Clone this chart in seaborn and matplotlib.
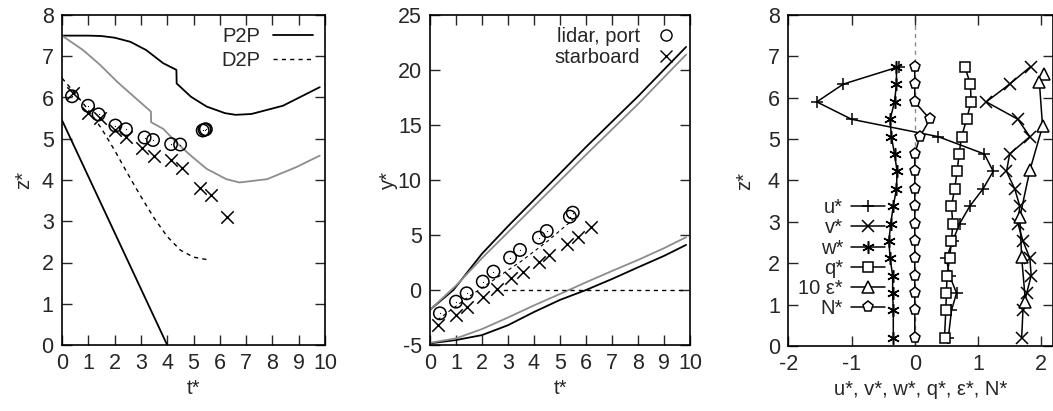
import matplotlib
matplotlib.use('Agg')
import matplotlib.pyplot as plt
import seaborn as sns
from matplotlib.lines import Line2D

# панель 1: z* от t*
p2p_hi_t = [0, 1, 1.5, 2, 2.6, 3.2, 3.85, 4.35, 4.36, 4.9, 5.5, 6.2, 6.6, 7.2, 8.4, 9.8]
p2p_hi_z = [7.5, 7.5, 7.49, 7.45, 7.35, 7.15, 6.83, 6.67, 6.34, 6.02, 5.78, 5.62, 5.58, 5.6, 5.8, 6.25]
gray_hi_t = [0, 0.8, 1.45, 2.1, 2.7, 3.38, 3.39, 3.85, 4.35, 4.9, 5.5, 6.25, 6.75, 7.8, 8.9, 9.8]
gray_hi_z = [7.5, 7.15, 6.79, 6.38, 6.04, 5.66, 5.4, 5.24, 4.91, 4.59, 4.27, 4.02, 3.94, 4.02, 4.31, 4.59]
p2p_lo_t = [0, 4]
p2p_lo_z = [5.45, 0]
d2p_t = [0, 0.5, 1, 1.5, 2, 2.5, 3, 3.5, 4, 4.5, 5, 5.6]
d2p_z = [6.47, 6.1, 5.7, 5.25, 4.72, 4.15, 3.6, 3.08, 2.63, 2.3, 2.13, 2.06]
port_t = [0.38, 0.99, 1.39, 2.03, 2.43, 3.14, 3.46, 4.15, 4.49, 5.35, 5.42, 5.47]
port_z = [6.03, 5.8, 5.59, 5.32, 5.23, 5.03, 4.97, 4.87, 4.86, 5.2, 5.22, 5.23]
stb_t = [0.42, 0.99, 1.43, 2.03, 2.44, 3.06, 3.51, 4.15, 4.56, 5.25, 5.66, 6.29]
stb_z = [6.1, 5.62, 5.5, 5.21, 5.05, 4.77, 4.59, 4.48, 4.28, 3.81, 3.64, 3.11]

# панель 2: y* от t*
y_hi_t = [0, 0.9, 2, 3, 4, 6, 8, 9.85]
y_hi = [-1.8, 0, 3.3, 5.8, 8.2, 13.0, 17.6, 22.1]
y_hi_g_t = [0, 1, 2, 4, 6, 8, 9.85]
y_hi_g = [-1.8, 0.4, 2.9, 7.6, 12.3, 16.9, 21.4]
y_lo_t = [0, 1, 2, 3, 4, 5, 6, 7, 8, 9, 9.85]
y_lo = [-4.85, -4.55, -4.1, -3.2, -2.0, -0.9, 0.0, 1.0, 2.06, 3.1, 4.1]
y_lo_g = [-4.8, -4.4, -3.55, -2.5, -1.4, -0.36, 0.7, 1.73, 2.73, 3.8, 4.8]
y_d2p_t = [0.3, 1.5, 2.5, 3.5, 4.5, 5.5]
y_d2p = [-2.7, -0.6, 1.0, 2.6, 4.4, 6.4]
y_zero_t = [2.5, 9.85]
y_zero = [0, 0]
yport_t = [0.38, 1.0, 1.41, 2.03, 2.44, 3.08, 3.46, 4.19, 4.49, 5.38, 5.49]
yport = [-2.12, -1.06, -0.3, 0.76, 1.67, 2.94, 3.64, 4.76, 5.36, 6.67, 7.03]
ystb_t = [0.32, 1.0, 1.44, 2.05, 2.56, 3.13, 3.56, 4.19, 4.56, 5.26, 5.71, 6.18]
ystb = [-3.18, -2.27, -1.52, -0.61, 0.06, 1.06, 1.67, 2.58, 3.18, 4.18, 4.79, 5.76]

# панель 3: профили
z_lev = [6.75, 6.33, 5.9, 5.48, 5.06, 4.64, 4.22, 3.8, 3.38, 2.96, 2.54, 2.12, 1.7, 1.28, 0.86, 0.2]
u_star = [-0.25, -1.13, -1.55, -1.0, 0.37, 1.1, 1.24, 1.08, 0.87, 0.71, 0.6, 0.5, 0.55, 0.66, 0.58, 0.53]
v_star = [1.83, 1.5, 1.13, 1.63, 1.82, 1.5, 1.45, 1.58, 1.66, 1.63, 1.71, 1.82, 1.84, 1.77, 1.71, 1.69]
w_star = [-0.29, -0.29, -0.32, -0.39, -0.37, -0.32, -0.28, -0.29, -0.34, -0.38, -0.41, -0.39, -0.35, -0.35, -0.34, -0.34]
q_star = [0.79, 0.88, 0.89, 0.82, 0.74, 0.7, 0.67, 0.63, 0.58, 0.6, 0.58, 0.55, 0.51, 0.5, 0.49, 0.47]
n_star = [0, 0, 0, 0.24, 0.08, 0, 0, 0, 0, 0, 0, 0, 0, 0, 0, 0]
eps_z = [6.58, 6.38, 5.31, 4.25, 3.11, 2.14, 1.07]
eps10 = [2.04, 1.97, 2.02, 1.82, 1.66, 1.69, 1.75]

GRAY = '#8c8c8c'

sns.set_style('ticks')
plt.rcParams['font.family'] = ['Liberation Sans', 'DejaVu Sans']
plt.rcParams['font.size'] = 14.5
plt.rcParams['axes.labelsize'] = 14.5
plt.rcParams['xtick.labelsize'] = 15.5
plt.rcParams['ytick.labelsize'] = 15.5
plt.rcParams['legend.fontsize'] = 14.5
plt.rcParams['axes.unicode_minus'] = False

fig = plt.figure(figsize=(10.53, 4.11), dpi=100)
ax1 = fig.add_axes([62 / 1053, 66 / 411, 263 / 1053, 330 / 411])
ax2 = fig.add_axes([430 / 1053, 66 / 411, 260 / 1053, 330 / 411])
ax3 = fig.add_axes([788.3 / 1053, 65 / 411, 265 / 1053, 331 / 411])


def line(ax, x, y, color='black', ls='-', lw=1.3, **kw):
    sns.lineplot(x=x, y=y, ax=ax, color=color, linestyle=ls, linewidth=lw,
                 sort=False, estimator=None, **kw)


def circles(ax, x, y):
    sns.scatterplot(x=x, y=y, ax=ax, marker='o', s=80, facecolor='none',
                    edgecolor='black', linewidth=1.1, zorder=4)
    sns.scatterplot(x=x, y=y, ax=ax, marker='.', s=3, color='black',
                    linewidth=0, zorder=4)


def crosses(ax, x, y):
    sns.scatterplot(x=x, y=y, ax=ax, marker='x', s=80, color='black',
                    linewidth=1.1, zorder=4)


# --- панель 1
line(ax1, p2p_hi_t, p2p_hi_z)
line(ax1, gray_hi_t, gray_hi_z, color=GRAY)
line(ax1, p2p_lo_t, p2p_lo_z)
line(ax1, d2p_t, d2p_z, ls=(0, (3, 3)), lw=1.0)
circles(ax1, port_t, port_z)
crosses(ax1, stb_t, stb_z)
ax1.set_xlim(0, 10)
ax1.set_ylim(0, 8)
ax1.set_xticks(range(0, 11))
ax1.set_yticks(range(0, 9))
ax1.set_xlabel('t*', labelpad=3)
ax1.set_ylabel('z*', labelpad=6)
ax1.legend(handles=[Line2D([], [], color='black', lw=1.3, label='P2P'),
                    Line2D([], [], color='black', lw=1.0, ls=(0, (3, 3)), label='D2P')],
           loc='upper right', markerfirst=False, frameon=False, handlelength=2.0,
           borderaxespad=0.2, labelspacing=0.25, handletextpad=0.6)

# --- панель 2
line(ax2, y_hi_t, y_hi)
line(ax2, y_hi_g_t, y_hi_g, color=GRAY)
line(ax2, y_lo_t, y_lo)
line(ax2, y_lo_t, y_lo_g, color=GRAY)
line(ax2, y_zero_t, y_zero, ls=(0, (3, 3)), lw=1.0)
line(ax2, y_d2p_t, y_d2p, ls=(0, (3, 3)), lw=0.8)
circles(ax2, yport_t, yport)
crosses(ax2, ystb_t, ystb)
ax2.set_xlim(0, 10)
ax2.set_ylim(-5, 25)
ax2.set_xticks(range(0, 11))
ax2.set_yticks(range(-5, 26, 5))
ax2.set_xlabel('t*', labelpad=3)
ax2.set_ylabel('y*', labelpad=0)
ax2.legend(handles=[Line2D([], [], ls='none', marker='o', mfc='none', mec='black', ms=8, label='lidar, port'),
                    Line2D([], [], ls='none', marker='x', color='black', ms=8, label='starboard')],
           loc='upper right', markerfirst=False, frameon=False, handlelength=1.2,
           borderaxespad=0.2, labelspacing=0.1, handletextpad=0.7)

# --- панель 3
ax3.axvline(0, color=GRAY, linestyle=(0, (3, 3)), linewidth=1.0, zorder=0)
prof = [('u*', u_star, z_lev, '+', 9), ('v*', v_star, z_lev, 'x', 8), ('w*', w_star, z_lev, (6, 2, 0), 9),
        ('q*', q_star, z_lev, 's', 7.5), ('10 ε*', eps10, eps_z, '^', 8), ('N*', n_star, z_lev, 'p', 8)]
handles = []
for lab, xs, zs, m, ms in prof:
    mk = dict(markersize=ms, markerfacecolor='white', markeredgecolor='black', markeredgewidth=1.1)
    sns.lineplot(x=xs, y=zs, ax=ax3, color='black', linewidth=1.1, sort=False,
                 estimator=None, marker=m, **mk)
    handles.append(Line2D([], [], color='black', lw=1.1, marker=m, label=lab, **mk))
ax3.set_xlim(-2, 2.19)
ax3.set_ylim(0, 8)
ax3.set_xticks([-2, -1, 0, 1, 2])
ax3.set_yticks(range(0, 9))
ax3.set_xlabel('u*, v*, w*, q*, ε*, N*', labelpad=3)
ax3.set_ylabel('z*', labelpad=10)
ax3.legend(handles=handles, loc='center left', bbox_to_anchor=(-0.03, 0.265),
           markerfirst=False, frameon=False, handlelength=1.7,
           labelspacing=0.06, handletextpad=0.4)

for ax in (ax1, ax2, ax3):
    ax.tick_params(direction='in', length=7, width=1.0, top=True, right=True, pad=6)
    for sp in ax.spines.values():
        sp.set_linewidth(1.2)
        sp.set_color('black')

fig.savefig('out.png', dpi=100)
